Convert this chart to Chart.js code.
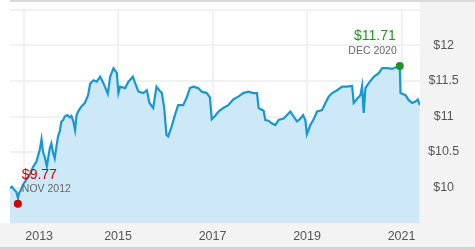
<!DOCTYPE html>
<html>
<head>
<meta charset="utf-8">
<script src="https://cdn.jsdelivr.net/npm/chart.js@4/dist/chart.umd.min.js"></script>
<style>
  html, body { margin: 0; padding: 0; background: #fff; }
  #chart-price { display: block; }
</style>
</head>
<body>
<canvas id="chart-price" width="475" height="250"></canvas>
<script>
// dates as decimal years, prices in $
var years = [
    2012.714, 2012.756, 2012.814, 2012.847, 2012.883, 2012.905, 2012.941, 2012.989,
    2013.059, 2013.131, 2013.201, 2013.271, 2013.343, 2013.381, 2013.413, 2013.449,
    2013.494, 2013.555, 2013.589, 2013.625, 2013.661, 2013.695, 2013.731, 2013.767,
    2013.801, 2013.837, 2013.873, 2013.928, 2013.979, 2014.013, 2014.055, 2014.091,
    2014.123, 2014.155, 2014.225, 2014.297, 2014.367, 2014.409, 2014.479, 2014.551,
    2014.621, 2014.691, 2014.784, 2014.833, 2014.903, 2014.975, 2015.008, 2015.044,
    2015.150, 2015.220, 2015.314, 2015.362, 2015.432, 2015.538, 2015.610, 2015.665,
    2015.744, 2015.814, 2015.871, 2015.928, 2015.977, 2016.025, 2016.061, 2016.131,
    2016.203, 2016.273, 2016.379, 2016.449, 2016.521, 2016.591, 2016.697, 2016.771,
    2016.877, 2016.945, 2016.983, 2017.057, 2017.127, 2017.227, 2017.333, 2017.439,
    2017.544, 2017.650, 2017.756, 2017.862, 2017.941, 2017.975, 2018.081, 2018.117,
    2018.186, 2018.258, 2018.328, 2018.398, 2018.504, 2018.576, 2018.646, 2018.716,
    2018.788, 2018.858, 2018.915, 2018.964, 2018.996, 2019.070, 2019.140, 2019.212,
    2019.318, 2019.388, 2019.458, 2019.530, 2019.636, 2019.742, 2019.847, 2019.953,
    2019.987, 2020.059, 2020.129, 2020.165, 2020.199, 2020.235, 2020.305, 2020.411,
    2020.517, 2020.589, 2020.695, 2020.801, 2020.907, 2020.962, 2020.977, 2021.083,
    2021.153, 2021.225, 2021.294, 2021.343, 2021.386
];
var prices = [
    9.99, 10.01, 9.96, 9.94, 9.85, 9.92, 9.96, 10.04,
    10.11, 10.18, 10.29, 10.36, 10.53, 10.68, 10.50, 10.43,
    10.30, 10.55, 10.62, 10.49, 10.41, 10.57, 10.72, 10.79,
    10.93, 10.95, 11.00, 11.02, 10.99, 11.01, 10.93, 10.81,
    11.02, 11.07, 11.14, 11.19, 11.30, 11.46, 11.51, 11.49,
    11.56, 11.47, 11.32, 11.56, 11.68, 11.61, 11.33, 11.42,
    11.40, 11.49, 11.56, 11.47, 11.35, 11.33, 11.37, 11.19,
    11.12, 11.42, 11.37, 11.33, 11.12, 10.74, 10.72, 10.85,
    11.02, 11.16, 11.16, 11.26, 11.40, 11.42, 11.40, 11.35,
    11.33, 11.27, 10.96, 11.01, 11.07, 11.12, 11.16, 11.24,
    11.28, 11.33, 11.35, 11.33, 11.33, 11.12, 11.08, 10.95,
    10.94, 10.90, 10.88, 10.95, 10.97, 11.02, 11.07, 11.00,
    10.93, 10.97, 11.02, 10.95, 10.75, 10.88, 10.96, 11.07,
    11.09, 11.19, 11.28, 11.33, 11.37, 11.42, 11.42, 11.43,
    11.19, 11.25, 11.30, 11.43, 11.05, 11.40, 11.47, 11.56,
    11.61, 11.68, 11.68, 11.67, 11.70, 11.71, 11.33, 11.30,
    11.23, 11.19, 11.21, 11.24, 11.16
];

var xTicks = [2013, 2015, 2017, 2019, 2021];
var yTicks = [9.5, 10, 10.5, 11, 11.5, 12, 12.5];
var yLabels = ['', '$10', '$10.5', '$11', '$11.5', '$12', ''];

// min / max
var lowPoint = { x: 2012.88, y: 9.77, price: '$9.77', date: 'NOV 2012' };
var highPoint = { x: 2020.962, y: 11.71, price: '$11.71', date: 'DEC 2020' };

var lineData = years.map(function(y, i) { return { x: y, y: prices[i] }; });

// fonds gris (panneau de droite, bande du bas)
var backgroundPlugin = {
    id: 'panels',
    beforeDraw: function(chart) {
        var ctx = chart.ctx, a = chart.chartArea;
        ctx.save();
        ctx.fillStyle = '#f3f3f3';
        ctx.fillRect(a.right, 0, chart.width - a.right, chart.height);
        ctx.fillRect(0, a.bottom, chart.width, chart.height - a.bottom);
        ctx.fillStyle = '#d9d9d9';
        ctx.fillRect(a.left, 0, chart.width - a.left, 2);
        ctx.fillStyle = '#d4d4d4';
        ctx.fillRect(0, chart.height - 3, chart.width, 3);
        ctx.restore();
    }
};

// étiquettes min / max
var labelPlugin = {
    id: 'extremes',
    afterDraw: function(chart) {
        var ctx = chart.ctx;
        var xs = chart.scales.x, ys = chart.scales.y;
        ctx.save();
        ctx.textBaseline = 'alphabetic';

        var lx = xs.getPixelForValue(lowPoint.x), ly = ys.getPixelForValue(lowPoint.y);
        ctx.textAlign = 'left';
        ctx.fillStyle = '#d40000';
        ctx.font = '14px "Liberation Sans", Arial, sans-serif';
        ctx.fillText(lowPoint.price, lx + 4, ly - 25);
        ctx.fillStyle = '#666';
        ctx.font = '10.5px "Liberation Sans", Arial, sans-serif';
        ctx.fillText(lowPoint.date, lx + 4, ly - 12);

        var hx = xs.getPixelForValue(highPoint.x), hy = ys.getPixelForValue(highPoint.y);
        ctx.textAlign = 'right';
        ctx.fillStyle = '#1a9a1a';
        ctx.font = '14px "Liberation Sans", Arial, sans-serif';
        ctx.fillText(highPoint.price, hx - 4, hy - 26);
        ctx.fillStyle = '#666';
        ctx.font = '10.5px "Liberation Sans", Arial, sans-serif';
        ctx.fillText(highPoint.date, hx - 3, hy - 12);
        ctx.restore();
    }
};

var config = {
    type: 'line',
    data: {
        datasets: [
            {
                data: lineData,
                borderColor: '#1697d6',
                backgroundColor: '#cde9f7',
                borderWidth: 2.2,
                fill: 'start',
                pointRadius: 0,
                tension: 0,
                order: 3
            },
            {
                data: [{ x: lowPoint.x, y: lowPoint.y }],
                showLine: false,
                pointRadius: 4,
                pointBackgroundColor: '#d40000',
                pointBorderWidth: 0,
                order: 1
            },
            {
                data: [{ x: highPoint.x, y: highPoint.y }],
                showLine: false,
                pointRadius: 4,
                pointBackgroundColor: '#1a9a1a',
                pointBorderWidth: 0,
                order: 1
            }
        ]
    },
    options: {
        responsive: false,
        animation: false,
        devicePixelRatio: 1,
        layout: { padding: { top: 10, left: 10, right: 0, bottom: 0 } },
        plugins: { legend: { display: false }, tooltip: { enabled: false } },
        scales: {
            x: {
                type: 'linear',
                min: 2012.714,
                max: 2021.39,
                z: 1,
                afterBuildTicks: function(scale) {
                    scale.ticks = xTicks.map(function(v) { return { value: v }; });
                },
                afterFit: function(scale) {
                    scale.height = 27;
                    scale.paddingLeft = 0;
                    scale.paddingRight = 0;
                },
                grid: { color: 'rgba(238,238,238,0.85)', lineWidth: 2, drawTicks: false },
                border: { display: false },
                ticks: {
                    padding: 6,
                    maxRotation: 0,
                    autoSkip: false,
                    color: '#555',
                    font: { family: '"Liberation Sans", Arial, sans-serif', size: 12.5 },
                    callback: function(v) {
                        return v === 2013 ? '\u2007\u2007\u2007\u2007 2013' : String(v);
                    }
                }
            },
            y: {
                type: 'linear',
                position: 'right',
                min: 9.5,
                max: 12.5,
                z: 1,
                afterBuildTicks: function(scale) {
                    scale.ticks = yTicks.map(function(v) { return { value: v }; });
                },
                afterFit: function(scale) {
                    scale.width = 55;
                    scale.paddingTop = 0;
                    scale.paddingBottom = 0;
                },
                grid: { color: 'rgba(238,238,238,0.85)', lineWidth: 2, drawTicks: false },
                border: { display: false },
                ticks: {
                    padding: 8,
                    crossAlign: 'center',
                    autoSkip: false,
                    color: '#555',
                    font: { family: '"Liberation Sans", Arial, sans-serif', size: 12.5 },
                    callback: function(v) {
                        return yLabels[yTicks.indexOf(v)];
                    }
                }
            }
        }
    },
    plugins: [backgroundPlugin, labelPlugin]
};

window.onload = function() {
    var ctx = document.getElementById('chart-price').getContext('2d');
    window.priceChart = new Chart(ctx, config);
};
</script>
</body>
</html>
